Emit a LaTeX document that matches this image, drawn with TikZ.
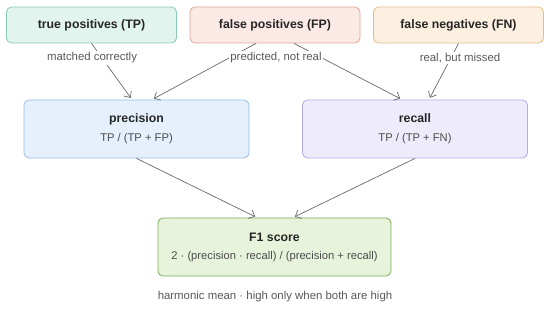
\documentclass[tikz,border=0pt]{standalone}
\usepackage{fontspec}
\setmainfont{Liberation Sans}
\usepackage{xcolor}
\definecolor{tpfill}{HTML}{E2F4EE}
\definecolor{tpline}{HTML}{88CBB4}
\definecolor{fpfill}{HTML}{FBE9E5}
\definecolor{fpline}{HTML}{E3A595}
\definecolor{fnfill}{HTML}{FDF0E0}
\definecolor{fnline}{HTML}{E4BC88}
\definecolor{prfill}{HTML}{E5F0FC}
\definecolor{prline}{HTML}{98BFE8}
\definecolor{rcfill}{HTML}{EEEBFB}
\definecolor{rcline}{HTML}{B3AAE6}
\definecolor{fsfill}{HTML}{E8F3DC}
\definecolor{fsline}{HTML}{78AE55}
\definecolor{edgegray}{HTML}{707070}
\usetikzlibrary{arrows.meta}
\newcommand{\ttl}[1]{{\fontsize{12.3}{14}\selectfont\bfseries\color{black!85}#1}}
\newcommand{\sub}[1]{{\fontsize{11.2}{13}\selectfont\color{black!70}#1}}
\tikzset{
  box/.style={draw,rounded corners=5pt,line width=0.8pt,inner sep=0pt,align=center},
  topbox/.style={box,minimum width=170pt,minimum height=36pt},
  midbox/.style={box,minimum width=225pt,minimum height=58pt},
  edge/.style={draw=edgegray,line width=0.75pt,-{Straight Barb[length=5pt,width=9pt]},shorten >=2pt},
  lbl/.style={fill=white,inner sep=1.5pt,font=\fontsize{11.4}{13}\selectfont,text=black!65}
}

\begin{document}
\begin{tikzpicture}[x=1pt,y=-1pt]
\useasboundingbox (0,0) rectangle (550,310);
% ---- counts ----
\node[topbox,fill=tpfill,draw=tpline] (tp) at (91.5,25) {\ttl{true positives (TP)}};
\node[topbox,fill=fpfill,draw=fpline] (fp) at (275,25) {\ttl{false positives (FP)}};
\node[topbox,fill=fnfill,draw=fnline] (fn) at (458.5,25) {\ttl{false negatives (FN)}};
% ---- metrics ----
\node[midbox,fill=prfill,draw=prline] (prec) at (136.5,129) {\ttl{precision}\\[7pt]\sub{TP / (TP + FP)}};
\node[midbox,fill=rcfill,draw=rcline] (rec) at (415,129) {\ttl{recall}\\[7pt]\sub{TP / (TP + FN)}};
\node[midbox,fill=fsfill,draw=fsline,minimum width=233pt] (f1) at (274.5,247) {\ttl{F1 score}\\[6pt]\sub{2 · (precision · recall) / (precision + recall)}};
% edges
\draw[edge] (tp.south) -- ([xshift=-4.5pt]prec.north);
\draw[edge] ([xshift=-19pt]fp.south) -- ([xshift=15.5pt]prec.north);
\draw[edge] ([xshift=19pt]fp.south) -- ([xshift=-13pt]rec.north);
\draw[edge] (fn.south) -- ([xshift=14pt]rec.north);
\draw[edge] (prec.south) -- ([xshift=-17.5pt]f1.north);
\draw[edge] (rec.south) -- ([xshift=18.5pt]f1.north);
% labels on edges
\node[lbl] (ltp) at (92,58) {matched correctly};
\node[lbl] (lfp) at (276,58) {predicted, not real};
\node[lbl] (lfn) at (460,58) {real, but missed};
\node[lbl] (note) at (275,297) {harmonic mean · high only when both are high};
\end{tikzpicture}
\end{document}
